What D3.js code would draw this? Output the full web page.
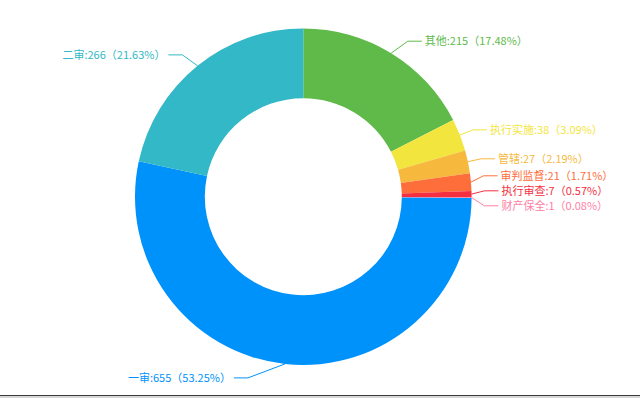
<!DOCTYPE html>
<html>
<head>
<meta charset="utf-8">
<script src="https://cdn.jsdelivr.net/npm/d3@7"></script>
<style>
  html, body { margin: 0; padding: 0; background: #fff; }
  svg { display: block; }
  text { font-family: "Noto Sans CJK SC", "Noto Sans", sans-serif; font-size: 11px; }
</style>
</head>
<body>
<svg id="chart" width="640" height="398"></svg>
<script>
var width = 640, height = 398;

// data, clockwise from 12 o'clock
var names  = ["其他", "执行实施", "管辖", "审判监督", "执行审查", "财产保全", "一审", "二审"];
var values = [215, 38, 27, 21, 7, 1, 655, 266];
var colors = ["#60ba4a", "#f2e63e", "#f6b93e", "#fe6e3b", "#f52f40", "#ff7fa6", "#0092fb", "#32b8c6"];

var cx = 303.3, cy = 196.7;
var outerR = 168.3, innerR = 98.5;
var len1 = 14, len2 = 14;

var total = d3.sum(values);

// percentages to 2 decimals, largest remainder so they add up to 100
function percents(vals) {
  var raw = vals.map(function (v) { return v / total * 10000; });
  var fl = raw.map(Math.floor);
  var left = 10000 - d3.sum(fl);
  var order = d3.range(vals.length).sort(function (a, b) { return (raw[b] - fl[b]) - (raw[a] - fl[a]); });
  for (var i = 0; i < left; i++) fl[order[i]] += 1;
  return fl.map(function (v) { return (v / 100).toFixed(2); });
}
var pct = percents(values);

var rows = names.map(function (n, i) { return { name: n, value: values[i], color: colors[i], pct: pct[i] }; });

var svg = d3.select("#chart");
var g = svg.append("g").attr("transform", "translate(" + cx + "," + cy + ")");

var pie = d3.pie().sort(null).value(function (d) { return d.value; });
var arc = d3.arc().innerRadius(innerR).outerRadius(outerR);

var arcs = pie(rows);

g.selectAll("path.slice")
  .data(arcs)
  .enter().append("path")
  .attr("class", "slice")
  .attr("d", arc)
  .attr("fill", function (d) { return d.data.color; });

// label layout
arcs.forEach(function (d) {
  var a = (d.startAngle + d.endAngle) / 2;
  d.side = Math.sin(a) >= 0 ? 1 : -1;
  d.ax = outerR * Math.sin(a);
  d.ay = -outerR * Math.cos(a);
  d.ly = -(outerR + len1) * Math.cos(a);
});

function relax(list, gap) {
  list.sort(function (a, b) { return a.ly - b.ly; });
  for (var k = 0; k < 80; k++) {
    for (var i = 1; i < list.length; i++) {
      var diff = list[i].ly - list[i - 1].ly;
      if (diff < gap) {
        var s = (gap - diff) / 2;
        list[i - 1].ly -= s;
        list[i].ly += s;
      }
    }
  }
}
relax(arcs.filter(function (d) { return d.side > 0; }), 15);
relax(arcs.filter(function (d) { return d.side < 0; }), 15);

var rx = outerR + 13, ry = outerR + 22;
arcs.forEach(function (d) {
  var t = Math.min(1, (d.ly * d.ly) / (ry * ry));
  d.lx = d.side * rx * Math.sqrt(1 - t);
  d.ex = d.lx + d.side * len2;
});

g.selectAll("polyline.guide")
  .data(arcs)
  .enter().append("polyline")
  .attr("class", "guide")
  .attr("fill", "none")
  .attr("stroke", function (d) { return d.data.color; })
  .attr("stroke-width", 1)
  .attr("points", function (d) {
    return [[d.ax, d.ay], [d.lx, d.ly], [d.ex, d.ly]].map(function (p) { return p.join(","); }).join(" ");
  });

g.selectAll("text.label")
  .data(arcs)
  .enter().append("text")
  .attr("class", "label")
  .attr("x", function (d) { return d.ex + d.side * 3; })
  .attr("y", function (d) { return d.ly; })
  .attr("dy", "0.35em")
  .attr("text-anchor", function (d) { return d.side > 0 ? "start" : "end"; })
  .attr("fill", function (d) { return d.data.color; })
  .text(function (d) {
    return d.data.name + ":" + d.data.value + "（" + d.data.pct + "%）";
  });

// frame edge at the bottom of the screenshot
svg.append("rect").attr("x", 0).attr("y", 395).attr("width", width).attr("height", 1).attr("fill", "#3a3a3a");
svg.append("rect").attr("x", 0).attr("y", 396).attr("width", width).attr("height", 2).attr("fill", "#d6d6d6");
</script>
</body>
</html>
